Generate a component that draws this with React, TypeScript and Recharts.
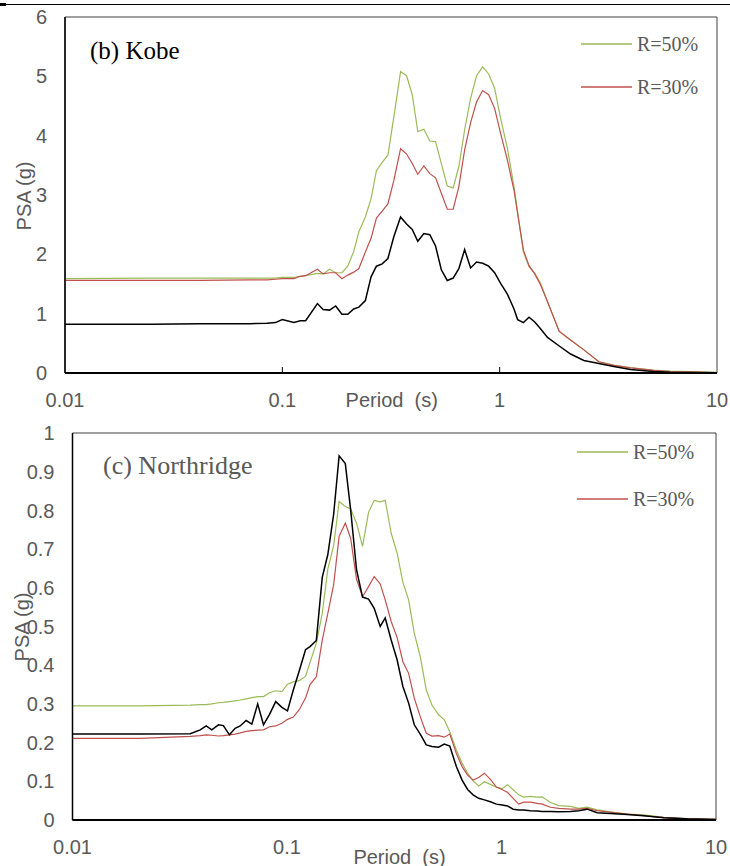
import { LineChart, Line, XAxis, YAxis, ReferenceArea, Legend } from 'recharts'

const SANS = '"Liberation Sans", Arial, sans-serif'
const SERIF = '"Liberation Serif", "Times New Roman", serif'
const GREEN = '#9BBB59'
const RED = '#C0504D'
const GRAY = '#595959'

// (b) Kobe
const kobePeriods = [0.01, 0.025, 0.042, 0.071, 0.085, 0.093, 0.1, 0.113, 0.121, 0.128, 0.145, 0.154, 0.165, 0.176, 0.188, 0.2, 0.213, 0.225, 0.241, 0.256, 0.271, 0.288, 0.306, 0.326, 0.35, 0.373, 0.396, 0.42, 0.448, 0.477, 0.507, 0.539, 0.574, 0.611, 0.649, 0.69, 0.735, 0.783, 0.835, 0.89, 0.948, 1.01, 1.085, 1.164, 1.21, 1.286, 1.365, 1.45, 1.545, 1.66, 1.88, 2.12, 2.44, 2.86, 3.35, 4.0, 5.1, 6.1, 10]
const kobeR50 = [1.59, 1.6, 1.6, 1.6, 1.6, 1.6, 1.61, 1.61, 1.63, 1.64, 1.68, 1.67, 1.75, 1.69, 1.69, 1.8, 2.05, 2.38, 2.63, 2.94, 3.41, 3.55, 3.67, 4.32, 5.08, 5.01, 4.69, 4.07, 4.11, 3.91, 3.9, 3.53, 3.15, 3.12, 3.48, 4.1, 4.63, 5.01, 5.16, 5.04, 4.8, 4.29, 3.79, 3.14, 2.71, 2.04, 1.79, 1.68, 1.51, 1.2, 0.7, 0.556, 0.39, 0.19, 0.135, 0.09, 0.05, 0.03, 0.01]
const kobeR30 = [1.56, 1.56, 1.56, 1.57, 1.57, 1.58, 1.59, 1.59, 1.63, 1.64, 1.75, 1.67, 1.69, 1.69, 1.59, 1.65, 1.7, 1.76, 2.04, 2.27, 2.61, 2.73, 2.85, 3.25, 3.78, 3.69, 3.53, 3.35, 3.49, 3.36, 3.29, 3.03, 2.76, 2.76, 3.14, 3.76, 4.22, 4.57, 4.76, 4.69, 4.46, 4.04, 3.59, 3.08, 2.68, 2.07, 1.81, 1.67, 1.48, 1.2, 0.7, 0.556, 0.39, 0.19, 0.13, 0.085, 0.045, 0.025, 0.008]
const kobeBase = [0.82, 0.82, 0.83, 0.83, 0.84, 0.85, 0.9, 0.85, 0.88, 0.88, 1.17, 1.07, 1.06, 1.13, 0.99, 0.99, 1.08, 1.11, 1.22, 1.62, 1.8, 1.84, 1.93, 2.3, 2.63, 2.51, 2.42, 2.22, 2.35, 2.33, 2.14, 1.74, 1.56, 1.6, 1.76, 2.08, 1.77, 1.87, 1.85, 1.8, 1.69, 1.51, 1.33, 1.08, 0.9, 0.85, 0.94, 0.86, 0.74, 0.6, 0.455, 0.32, 0.21, 0.16, 0.11, 0.06, 0.025, 0.012, 0.005]

// (c) Northridge
const northPeriods = [0.01, 0.0207, 0.0354, 0.0394, 0.042, 0.0446, 0.0479, 0.0505, 0.0539, 0.0573, 0.0605, 0.0645, 0.0686, 0.073, 0.0777, 0.0829, 0.0886, 0.0947, 0.1005, 0.107, 0.114, 0.122, 0.128, 0.137, 0.146, 0.155, 0.165, 0.175, 0.187, 0.198, 0.211, 0.225, 0.24, 0.255, 0.272, 0.287, 0.306, 0.326, 0.347, 0.369, 0.392, 0.418, 0.446, 0.474, 0.509, 0.541, 0.574, 0.616, 0.655, 0.695, 0.737, 0.783, 0.832, 0.888, 0.947, 1.006, 1.069, 1.133, 1.203, 1.269, 1.364, 1.466, 1.547, 1.691, 1.849, 2.097, 2.292, 2.508, 2.793, 3.223, 3.856, 4.61, 5.713, 7.345, 10]
const northR50 = [0.295, 0.295, 0.297, 0.298, 0.298, 0.3, 0.303, 0.304, 0.306, 0.308, 0.31, 0.313, 0.316, 0.319, 0.319, 0.329, 0.334, 0.332, 0.351, 0.357, 0.36, 0.371, 0.407, 0.457, 0.534, 0.648, 0.709, 0.823, 0.81, 0.804, 0.767, 0.707, 0.795, 0.826, 0.822, 0.826, 0.741, 0.69, 0.614, 0.569, 0.483, 0.422, 0.336, 0.297, 0.272, 0.259, 0.228, 0.181, 0.147, 0.121, 0.101, 0.088, 0.099, 0.092, 0.085, 0.081, 0.091, 0.078, 0.065, 0.059, 0.061, 0.059, 0.06, 0.045, 0.037, 0.035, 0.03, 0.033, 0.026, 0.021, 0.015, 0.013, 0.007, 0.003, 0.002]
const northR30 = [0.211, 0.211, 0.216, 0.218, 0.22, 0.219, 0.217, 0.218, 0.22, 0.222, 0.225, 0.229, 0.231, 0.232, 0.233, 0.241, 0.243, 0.25, 0.26, 0.266, 0.285, 0.315, 0.35, 0.37, 0.465, 0.534, 0.608, 0.733, 0.767, 0.728, 0.622, 0.577, 0.603, 0.629, 0.61, 0.569, 0.513, 0.472, 0.409, 0.379, 0.315, 0.267, 0.224, 0.217, 0.218, 0.214, 0.222, 0.172, 0.138, 0.116, 0.103, 0.11, 0.121, 0.105, 0.085, 0.079, 0.071, 0.056, 0.041, 0.046, 0.046, 0.043, 0.041, 0.033, 0.03, 0.028, 0.028, 0.03, 0.024, 0.02, 0.015, 0.011, 0.006, 0.003, 0.002]
const northBase = [0.222, 0.222, 0.223, 0.233, 0.243, 0.233, 0.246, 0.244, 0.22, 0.237, 0.243, 0.257, 0.248, 0.3, 0.246, 0.273, 0.306, 0.291, 0.282, 0.336, 0.385, 0.44, 0.448, 0.464, 0.627, 0.686, 0.79, 0.941, 0.921, 0.802, 0.646, 0.576, 0.571, 0.547, 0.5, 0.522, 0.465, 0.414, 0.345, 0.302, 0.246, 0.222, 0.194, 0.19, 0.188, 0.196, 0.191, 0.138, 0.103, 0.079, 0.065, 0.056, 0.052, 0.047, 0.041, 0.039, 0.036, 0.028, 0.026, 0.026, 0.024, 0.023, 0.022, 0.022, 0.021, 0.022, 0.024, 0.028, 0.019, 0.017, 0.014, 0.011, 0.006, 0.003, 0.001]

const xTicks = [0.01, 0.1, 1, 10]
const kobeYTicks = [0, 1, 2, 3, 4, 5, 6]
const northYTicks = [0, 0.1, 0.2, 0.3, 0.4, 0.5, 0.6, 0.7, 0.8, 0.9, 1]
const legendNames = ['R=50%', 'R=30%']

function buildRows(periods: number[], r50: number[], r30: number[], base: number[]) {
  return periods.map((p, i) => ({ period: p, r50: r50[i], r30: r30[i], base: base[i] }))
}

const kobeRows = buildRows(kobePeriods, kobeR50, kobeR30, kobeBase)
const northRows = buildRows(northPeriods, northR50, northR30, northBase)

const TICK_MARGIN = 20

function PeriodTick({ x, y, payload, marks }: any) {
  const v = payload.value
  const axisY = y - TICK_MARGIN
  return (
    <g>
      {marks && v > 0.01 && v < 10 && (
        <line x1={x} x2={x} y1={axisY} y2={axisY - 6} stroke="#000" strokeWidth={1} />
      )}
      <text x={x} y={y} dy="0.71em" textAnchor="middle" fill={GRAY} fontSize={20} fontFamily={SANS}>
        {String(v)}
      </text>
    </g>
  )
}

function SeriesKey({ payload, gap }: any) {
  const items = (payload || []).filter((p: any) => p.dataKey !== 'base')
  items.sort((a: any, b: any) => legendNames.indexOf(a.value) - legendNames.indexOf(b.value))
  return (
    <svg width={140} height={20 + gap * items.length}>
      {items.map((p: any, i: number) => (
        <g key={p.value}>
          <line x1={0} x2={51} y1={10 + i * gap} y2={10 + i * gap} stroke={p.color} strokeWidth={1.3} />
          <text x={56} y={16.7 + i * gap} fontFamily={SERIF} fontSize={20} fill={GRAY}>{p.value}</text>
        </g>
      ))}
    </svg>
  )
}

const fmtNorth = (v: number) => (v === 0 ? '0' : v === 1 ? '1' : v.toFixed(1))

function SpectrumLines() {
  return [
    <Line key="r50" type="linear" dataKey="r50" name={legendNames[0]} stroke={GREEN} strokeWidth={1.2} dot={false} activeDot={false} isAnimationActive={false} />,
    <Line key="r30" type="linear" dataKey="r30" name={legendNames[1]} stroke={RED} strokeWidth={1.2} dot={false} activeDot={false} isAnimationActive={false} />,
    <Line key="base" type="linear" dataKey="base" name="base" legendType="none" stroke="#000" strokeWidth={1.5} dot={false} activeDot={false} isAnimationActive={false} />,
  ]
}

export default function App() {
  return (
    <div style={{ position: 'absolute', left: 0, top: 0, width: 730, height: 866, background: '#fff' }}>
      <div style={{ position: 'absolute', left: 0, top: 4, width: 730, height: 1, background: '#000' }} />
      <div style={{ position: 'absolute', left: 0, top: 3, width: 6, height: 3, background: '#000' }} />

      <div style={{ position: 'absolute', left: 0, top: 0 }}>
        <LineChart width={730} height={420} data={kobeRows} margin={{ top: 17, right: 13, bottom: 17, left: 0 }}>
          <XAxis
            dataKey="period"
            type="number"
            scale="log"
            domain={[0.01, 10]}
            ticks={xTicks}
            allowDataOverflow
            interval={0}
            height={30}
            tickSize={0}
            tickMargin={TICK_MARGIN}
            tickLine={false}
            tick={<PeriodTick marks />}
            axisLine={{ stroke: '#000', strokeWidth: 2 }}
          />
          <YAxis
            type="number"
            domain={[0, 6]}
            ticks={kobeYTicks}
            interval={0}
            width={65}
            tickSize={0}
            tickMargin={18}
            tickLine={false}
            tick={{ fill: GRAY, fontSize: 20, fontFamily: SANS }}
            axisLine={{ stroke: '#000', strokeWidth: 1.5 }}
          />
          <ReferenceArea x1={0.01} x2={10} y1={0} y2={6} fill="none" stroke="#404040" strokeWidth={1} ifOverflow="visible" />
          {SpectrumLines()}
          <Legend
            layout="horizontal"
            verticalAlign="middle"
            align="center"
            wrapperStyle={{ left: 581, top: 34, width: 140 }}
            content={(props: any) => <SeriesKey {...props} gap={43} />}
          />
        </LineChart>
      </div>

      <div style={{ position: 'absolute', left: 0, top: 420 }}>
        <LineChart width={730} height={446} data={northRows} margin={{ top: 13, right: 14, bottom: 16, left: 0 }}>
          <XAxis
            dataKey="period"
            type="number"
            scale="log"
            domain={[0.01, 10]}
            ticks={xTicks}
            allowDataOverflow
            interval={0}
            height={30}
            tickSize={0}
            tickMargin={TICK_MARGIN}
            tickLine={false}
            tick={<PeriodTick />}
            axisLine={{ stroke: '#000', strokeWidth: 2 }}
          />
          <YAxis
            type="number"
            domain={[0, 1]}
            ticks={northYTicks}
            interval={0}
            width={72.5}
            tickSize={0}
            tickMargin={18}
            tickLine={false}
            tickFormatter={fmtNorth}
            tick={{ fill: GRAY, fontSize: 20, fontFamily: SANS }}
            axisLine={{ stroke: '#000', strokeWidth: 1.5 }}
          />
          <ReferenceArea x1={0.01} x2={10} y1={0} y2={1} fill="none" stroke="#404040" strokeWidth={1} ifOverflow="visible" />
          {SpectrumLines()}
          <Legend
            layout="horizontal"
            verticalAlign="middle"
            align="center"
            wrapperStyle={{ left: 577, top: 22, width: 140 }}
            content={(props: any) => <SeriesKey {...props} gap={47} />}
          />
        </LineChart>
      </div>

      <svg width={730} height={866} style={{ position: 'absolute', left: 0, top: 0, pointerEvents: 'none' }}>
        <text x={90} y={59} fontFamily={SERIF} fontSize={25} fill="#000">(b) Kobe</text>
        <text transform="translate(30.5,196) rotate(-90)" textAnchor="middle" fontFamily={SANS} fontSize={20} fill={GRAY}>PSA (g)</text>
        <text x={391.7} y={406.5} textAnchor="middle" fontFamily={SANS} fontSize={20} fill={GRAY} style={{ whiteSpace: 'pre' }}>{'Period  (s)'}</text>
        <text x={103} y={474} fontFamily={SERIF} fontSize={26} fill={GRAY}>(c) Northridge</text>
        <text transform="translate(28.5,627) rotate(-90)" textAnchor="middle" fontFamily={SANS} fontSize={20} fill={GRAY}>PSA (g)</text>
        <text x={399.5} y={863.5} textAnchor="middle" fontFamily={SANS} fontSize={20} fill={GRAY} style={{ whiteSpace: 'pre' }}>{'Period  (s)'}</text>
      </svg>
    </div>
  )
}
